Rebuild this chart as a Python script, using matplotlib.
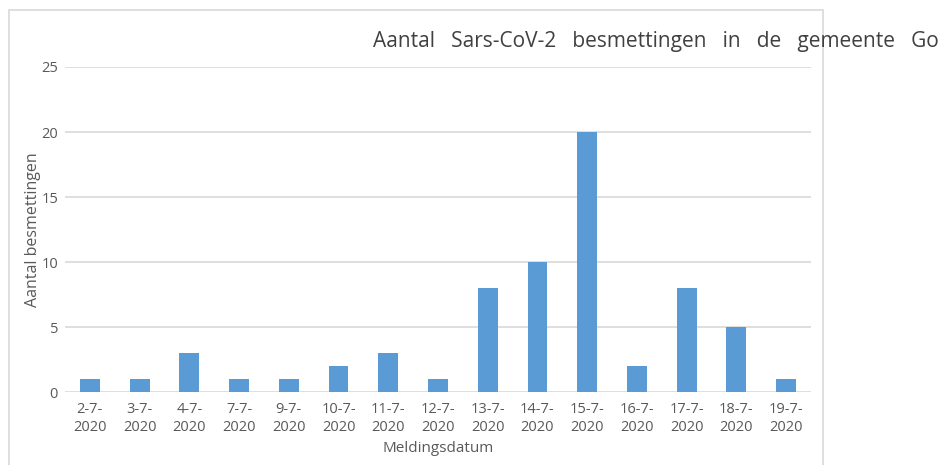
import matplotlib
matplotlib.use("Agg")
import matplotlib.pyplot as plt
from matplotlib.patches import Rectangle

categories = ["2-7-\n2020", "3-7-\n2020", "4-7-\n2020", "7-7-\n2020", "9-7-\n2020",
              "10-7-\n2020", "11-7-\n2020", "12-7-\n2020", "13-7-\n2020", "14-7-\n2020",
              "15-7-\n2020", "16-7-\n2020", "17-7-\n2020", "18-7-\n2020", "19-7-\n2020"]
values = [1, 1, 3, 1, 1, 2, 3, 1, 8, 10, 20, 2, 8, 5, 1]
yticks = [0, 5, 10, 15, 20, 25]
title = "Aantal   Sars-CoV-2   besmettingen   in   de   gemeente   Go"

plt.rcParams['font.family'] = ['Open Sans', 'DejaVu Sans']
W, H = 946, 465
fig = plt.figure(figsize=(W / 100, H / 100), dpi=100)
fig.patch.set_facecolor('white')

# chart area border
fig.patches.append(Rectangle((9 / W, -0.05), (823 - 9) / W, (H - 10) / H + 0.05,
                             transform=fig.transFigure, fill=False,
                             edgecolor='#d9d9d9', linewidth=1.2))

ax = fig.add_axes([65 / W, (H - 392) / H, (811 - 65) / W, (392 - 67) / H])
x = list(range(len(categories)))
ax.bar(x, values, width=0.4, color='#5b9bd5', zorder=3)
ax.set_xlim(-0.5, len(categories) - 0.5)
ax.set_ylim(0, 25)
ax.set_yticks(yticks)
ax.set_xticks(x)
ax.set_xticklabels(categories, fontsize=10.5, color='#595959', linespacing=1.3)
ax.tick_params(axis='y', labelsize=10.5, labelcolor='#595959', length=0, pad=5)
ax.tick_params(axis='x', length=0, pad=7)
ax.grid(axis='y', color='#d9d9d9', linewidth=1.2, zorder=0)
for s in ax.spines.values():
    s.set_visible(False)
ax.set_ylabel("Aantal besmettingen", fontsize=11.5, color='#595959', labelpad=0)
ax.set_xlabel("Meldingsdatum", fontsize=11, color='#595959', labelpad=4)

fig.text(373 / W, (H - 41) / H, title, fontsize=15, color='#404040',
         ha='left', va='center')

fig.savefig("out.png", dpi=100, facecolor='white')
